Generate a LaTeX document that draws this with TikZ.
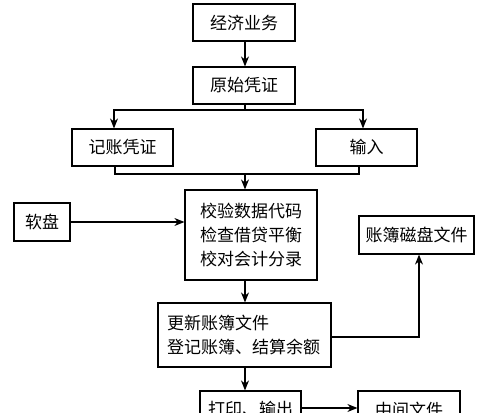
\documentclass[tikz,border=0pt]{standalone}
\usepackage{fontspec}
\newfontfamily\cjk{Noto Sans CJK SC}
\usetikzlibrary{arrows.meta}
\begin{document}
\begin{tikzpicture}[x=1pt,y=-1pt,
        box/.style={draw,line width=1.2pt,inner sep=0pt,font=\cjk\fontsize{17}{24}\selectfont},
        arr/.style={-{Stealth[length=10pt,width=8pt]},line width=1.2pt}]
        \useasboundingbox (0,0) rectangle (500,412);
        \clip (0,0) rectangle (500,412);
        % boxes
        \node[box,minimum width=102,minimum height=37] (jjyw) at (244,22.5) {经济业务};
        \node[box,minimum width=102,minimum height=37] (yspz) at (244,85.5) {原始凭证};
        \node[box,minimum width=101,minimum height=37] (jzpz) at (122.5,147.5) {记账凭证};
        \node[box,minimum width=101,minimum height=37] (shuru) at (366.5,147.5) {输入};
        \node[box,minimum width=132,minimum height=90,align=center] (jiaoyan) at (251,235) {校验数据代码\\检查借贷平衡\\校对会计分录};
        \node[box,minimum width=56,minimum height=38] (ruanpan) at (42,222) {软盘};
        \node[box,minimum width=115,minimum height=38] (cipan) at (416.5,235) {账簿磁盘文件};
        \node[box,minimum height=64,inner xsep=9pt,text width=155pt,align=left] (gengxin) at (244.5,335) {更新账簿文件\\登记账簿、结算余额};
        \node[box,minimum width=101,minimum height=37] (dayin) at (250.5,409.5) {打印、输出};
        \node[box,minimum width=102,minimum height=37] (zhongjian) at (409,409.5) {中间文件};
        % connectors
        \coordinate (split) at (245,110);
        \coordinate (merge) at (245,174);
        \draw[arr] (jjyw.south -| split) -- (yspz.north -| split);
        \draw[line width=1.2pt] (yspz.south -| split) -- (split);
        \draw[arr] (split) -| ([xshift=-8.5pt]jzpz.north);
        \draw[arr] (split) -| ([xshift=-3.5pt]shuru.north);
        \draw[line width=1.2pt] ([xshift=-7.5pt]jzpz.south) |- (merge) -| ([xshift=-7.5pt]shuru.south);
        \draw[arr] (merge) -- (merge |- jiaoyan.north);
        \draw[arr] (ruanpan.east) -- (ruanpan.east -| jiaoyan.west);
        \draw[arr] (merge |- jiaoyan.south) -- (merge |- gengxin.north);
        \draw[arr] ([yshift=-2pt]gengxin.east) -| ([xshift=2.5pt]cipan.south);
        \draw[arr] (merge |- gengxin.south) -- (merge |- dayin.north);
        \draw[arr] ([yshift=1.5pt]dayin.east) -- ([yshift=1.5pt]dayin.east -| zhongjian.west);
    \end{tikzpicture}
\end{document}
